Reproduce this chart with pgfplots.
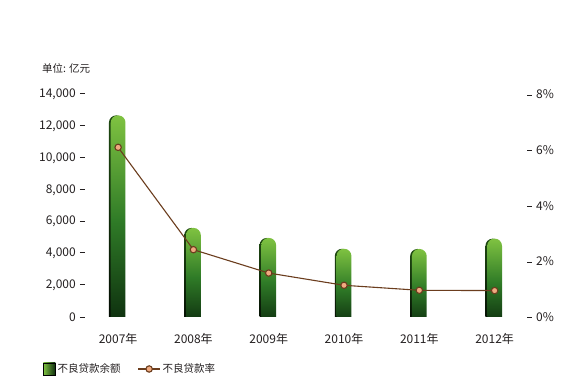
\documentclass[border=0pt]{standalone}
\usepackage{pgfplots}
\pgfplotsset{compat=1.18}
\usepackage{fontspec}
\setmainfont{Noto Sans CJK SC}
\definecolor{barTop}{HTML}{7FC241}
\definecolor{barMid}{HTML}{2F7B27}
\definecolor{barBot}{HTML}{0C2B0D}
\definecolor{shTop}{HTML}{1F4A12}
\definecolor{shBot}{HTML}{020A02}
\definecolor{lineBrown}{HTML}{6B3D1E}
\definecolor{markFill}{HTML}{F0AA80}
\definecolor{txt}{HTML}{231F20}
\pgfplotsset{
  barsty/.style={draw=none, shading=axis, top color=barTop, bottom color=barBot, middle color=barMid, rounded corners=7.2pt},
  shadsty/.style={draw=none, shading=axis, top color=shTop, bottom color=shBot, rounded corners=7.2pt, xshift=-1.8pt},
  lineleg/.style={legend image code/.code={\draw[mark repeat=2, mark phase=2, ##1] plot coordinates {(0pt,0pt) (11pt,0pt) (22pt,0pt)};}},
  boxleg/.style={legend image code/.code={\shade[left color=barTop, right color=barBot] (0pt,-6pt) rectangle (12pt,6pt);}},
}
\begin{document}
\begin{tikzpicture}
\useasboundingbox (-88pt,-65pt) rectangle (478pt,317pt);
\begin{axis}[
  at={(0pt,0pt)}, anchor=south west,
  scale only axis, width=436pt, height=222.5pt,
  xmin=-0.4, xmax=5.39, ymin=0, ymax=14000,
  axis line style={draw=none}, major tick length=0pt,
  xtick={0,...,5}, xticklabels={2007年,2008年,2009年,2010年,2011年,2012年},
  xticklabel style={anchor=base, yshift=-27pt, font=\fontsize{12}{14}\selectfont, text=txt},
  ytick={0,2000,...,14000}, scaled y ticks=false,
  yticklabel={\pgfmathprintnumber{\tick}\hspace{4pt}\rule[0.3em]{5pt}{0.65pt}},
  yticklabel style={anchor=east, inner sep=0pt, xshift=-3pt, font=\fontsize{12}{14}\selectfont, text=txt},
  /pgf/number format/.cd, 1000 sep={,}, assume math mode=true,
]
\addplot[shadsty] coordinates {(-0.098,-600) (-0.098,12684) (0.098,12684) (0.098,-600)} -- cycle;
\addplot[barsty] coordinates {(-0.098,-600) (-0.098,12684) (0.098,12684) (0.098,-600)} -- cycle;
\addplot[shadsty] coordinates {(0.902,-600) (0.902,5603) (1.098,5603) (1.098,-600)} -- cycle;
\addplot[barsty] coordinates {(0.902,-600) (0.902,5603) (1.098,5603) (1.098,-600)} -- cycle;
\addplot[shadsty] coordinates {(1.902,-600) (1.902,4973) (2.098,4973) (2.098,-600)} -- cycle;
\addplot[barsty] coordinates {(1.902,-600) (1.902,4973) (2.098,4973) (2.098,-600)} -- cycle;
\addplot[shadsty] coordinates {(2.902,-600) (2.902,4293) (3.098,4293) (3.098,-600)} -- cycle;
\addplot[barsty] coordinates {(2.902,-600) (2.902,4293) (3.098,4293) (3.098,-600)} -- cycle;
\addplot[shadsty] coordinates {(3.902,-600) (3.902,4279) (4.098,4279) (4.098,-600)} -- cycle;
\addplot[barsty] coordinates {(3.902,-600) (3.902,4279) (4.098,4279) (4.098,-600)} -- cycle;
\addplot[shadsty] coordinates {(4.902,-600) (4.902,4929) (5.098,4929) (5.098,-600)} -- cycle;
\addplot[barsty] coordinates {(4.902,-600) (4.902,4929) (5.098,4929) (5.098,-600)} -- cycle;
\end{axis}
\begin{axis}[
  at={(0pt,0pt)}, anchor=south west,
  scale only axis, width=436pt, height=222.5pt,
  xmin=-0.4, xmax=5.39, ymin=0, ymax=8,
  axis line style={draw=none}, major tick length=0pt,
  xtick=\empty, ytick={0,2,...,8}, yticklabel pos=right,
  yticklabel={\rule[0.3em]{5pt}{0.65pt}\hspace{4pt}\pgfmathprintnumber{\tick}\%},
  yticklabel style={anchor=west, inner sep=0pt, xshift=3pt, font=\fontsize{12}{14}\selectfont, text=txt},
  legend style={at={([xshift=-48pt,yshift=-52pt]axis description cs:0,0)}, anchor=west, draw=none, fill=none,
    legend columns=2, font=\fontsize{10.5}{12}\selectfont, text=txt,
    /tikz/every even column/.append style={column sep=15pt},
    nodes={inner sep=2pt}},
  legend cell align=left,
  /pgf/number format/.cd, assume math mode=true,
]
\addlegendimage{boxleg}
\addlegendentry{不良贷款余额}
\addplot[lineBrown, line width=1.1pt, mark=*, mark size=3.2pt,
  mark options={fill=markFill, draw=lineBrown, line width=1.1pt}, lineleg]
  coordinates {(0,6.1) (1,2.42) (2,1.58) (3,1.14) (4,0.96) (5,0.95)};
\addlegendentry{不良贷款率}
\end{axis}
\node[anchor=west, inner sep=0pt, font=\fontsize{10.5}{12}\selectfont, text=txt] at (-46pt,249pt) {单位: 亿元};
\end{tikzpicture}
\end{document}
